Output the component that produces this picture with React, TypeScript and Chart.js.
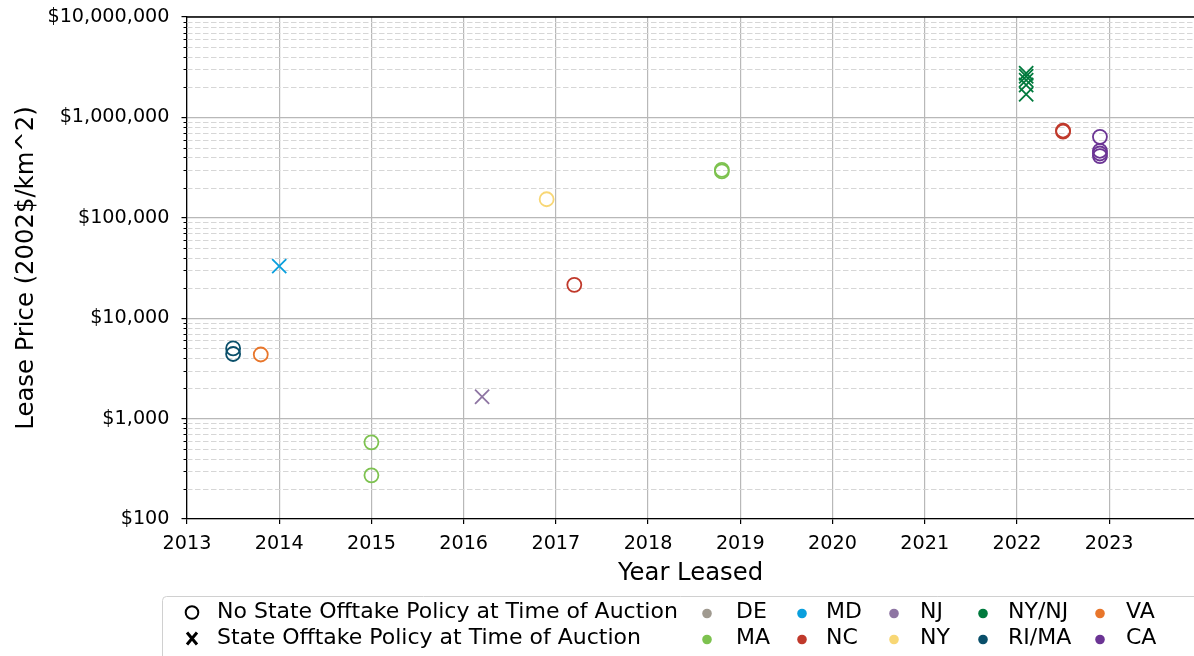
import React, { useEffect, useRef } from "react";
import { Chart, registerables } from "chart.js";

Chart.register(...registerables);

// ---------- data ----------
const yearTicks = [2013, 2014, 2015, 2016, 2017, 2018, 2019, 2020, 2021, 2022, 2023];
const priceTicks = [100, 1000, 10000, 100000, 1000000, 10000000];
const minorMultipliers = [2, 3, 4, 5, 6, 7, 8, 9];

const stateNames = ["DE", "MD", "NJ", "NY/NJ", "VA", "MA", "NC", "NY", "RI/MA", "CA"];
const stateColors = ["#a09a90", "#0a9fdd", "#8e75a3", "#007a3d", "#e8762b", "#7dc24f", "#c0392b", "#f8d775", "#0a4f6a", "#6b3494"];

const offtakeLabels = ["No State Offtake Policy at Time of Auction", "State Offtake Policy at Time of Auction"];

// No state offtake policy (circles)
const riMaYears = [2013.5, 2013.5];
const riMaPrices = [5000, 4400];
const vaYears = [2013.8];
const vaPrices = [4350];
const maYears = [2015.0, 2015.0, 2018.8, 2018.8];
const maPrices = [580, 272, 300000, 290000];
const nyYears = [2016.9];
const nyPrices = [153000];
const ncYears = [2017.2, 2022.5, 2022.5];
const ncPrices = [21500, 740000, 720000];
const caYears = [2022.9, 2022.9, 2022.9, 2022.9];
const caPrices = [640000, 465000, 437000, 412000];

// State offtake policy (crosses)
const mdYears = [2014.0];
const mdPrices = [33000];
const njYears = [2016.2];
const njPrices = [1650];
const nynjYears = [2022.1, 2022.1, 2022.1, 2022.1, 2022.1];
const nynjPrices = [2750000, 2570000, 2350000, 2100000, 1700000];

const X_MIN = 2013;
const X_MAX = 2023.92;

const colorOf = (s: string) => stateColors[stateNames.indexOf(s)];
const zip = (xs: number[], ys: number[]) => xs.map((x, i) => ({ x, y: ys[i] }));

const FONT = '"DejaVu Sans", sans-serif';

const minorGridPlugin = {
  id: "minorGrid",
  beforeDatasetsDraw(chart: any) {
    const { ctx, chartArea } = chart;
    const y = chart.scales.y;
    ctx.save();
    for (let d = 0; d < priceTicks.length - 1; d++) {
      for (const m of minorMultipliers) {
        const v = priceTicks[d] * m;
        const py = Math.round(y.getPixelForValue(v)) + 0.5;
        ctx.strokeStyle = "#d6d6d6";
        ctx.lineWidth = 1;
        ctx.setLineDash([5.5, 2.5]);
        ctx.beginPath();
        ctx.moveTo(chartArea.left, py);
        ctx.lineTo(chartArea.right, py);
        ctx.stroke();
        ctx.setLineDash([]);
        ctx.strokeStyle = "#000";
        ctx.beginPath();
        ctx.moveTo(chartArea.left - 3.5, py);
        ctx.lineTo(chartArea.left, py);
        ctx.stroke();
      }
    }
    ctx.restore();
  },
  afterDatasetsDraw(chart: any) {
    const { ctx, chartArea } = chart;
    ctx.save();
    ctx.strokeStyle = "#000";
    ctx.lineWidth = 1.3;
    ctx.beginPath();
    ctx.moveTo(chartArea.left, chartArea.top);
    ctx.lineTo(chartArea.right, chartArea.top);
    ctx.stroke();
    ctx.restore();
  },
};

const legendPlugin = {
  id: "customLegend",
  afterDraw(chart: any) {
    const ctx = chart.ctx;
    ctx.save();
    const bx = 162.5, by = 596.5, bw = 1060, bh = 80, r = 4;
    ctx.beginPath();
    ctx.moveTo(bx + r, by);
    ctx.lineTo(bx + bw - r, by);
    ctx.quadraticCurveTo(bx + bw, by, bx + bw, by + r);
    ctx.lineTo(bx + bw, by + bh);
    ctx.lineTo(bx, by + bh);
    ctx.lineTo(bx, by + r);
    ctx.quadraticCurveTo(bx, by, bx + r, by);
    ctx.closePath();
    ctx.fillStyle = "rgba(255,255,255,0.85)";
    ctx.fill();
    ctx.strokeStyle = "#d0d0d0";
    ctx.lineWidth = 1;
    ctx.stroke();

    const rows = [612.5, 638.5];
    ctx.font = `22px ${FONT}`;
    ctx.textBaseline = "middle";
    ctx.textAlign = "left";

    // marker-type entries
    ctx.strokeStyle = "#000";
    ctx.lineWidth = 2;
    ctx.beginPath();
    ctx.arc(192, rows[0], 6.3, 0, Math.PI * 2);
    ctx.stroke();
    ctx.lineWidth = 3;
    ctx.beginPath();
    ctx.moveTo(187, rows[1] - 6);
    ctx.lineTo(197, rows[1] + 6);
    ctx.moveTo(197, rows[1] - 6);
    ctx.lineTo(187, rows[1] + 6);
    ctx.stroke();
    ctx.fillStyle = "#000";
    ctx.fillText(offtakeLabels[0], 217, rows[0]);
    ctx.fillText(offtakeLabels[1], 217, rows[1]);

    // state entries
    const dotX = [707, 802, 894, 983, 1100];
    const textX = [736, 826, 920, 1008, 1126];
    stateNames.forEach((name, i) => {
      const col = i % 5;
      const row = Math.floor(i / 5);
      const cy = rows[row] + 1;
      ctx.fillStyle = stateColors[i];
      ctx.beginPath();
      ctx.arc(dotX[col], cy, 4.8, 0, Math.PI * 2);
      ctx.fill();
      ctx.fillStyle = "#000";
      ctx.fillText(name, textX[col], rows[row]);
    });
    ctx.restore();
  },
};

export default function App() {
  const ref = useRef<HTMLCanvasElement>(null);

  useEffect(() => {
    document.body.style.margin = "0";
    if (!ref.current) return;

    const circleSet = (label: string, xs: number[], ys: number[]) => ({
      label,
      data: zip(xs, ys),
      pointStyle: "circle",
      pointRadius: 7,
      pointBorderWidth: 1.8,
      borderColor: colorOf(label),
      pointBorderColor: colorOf(label),
      pointBackgroundColor: "rgba(0,0,0,0)",
      backgroundColor: "rgba(0,0,0,0)",
      showLine: false,
    });
    const crossSet = (label: string, xs: number[], ys: number[]) => ({
      label,
      data: zip(xs, ys),
      pointStyle: "crossRot",
      pointRadius: 10,
      pointBorderWidth: 1.8,
      borderColor: colorOf(label),
      pointBorderColor: colorOf(label),
      pointBackgroundColor: colorOf(label),
      backgroundColor: colorOf(label),
      showLine: false,
    });

    const chart = new Chart(ref.current, {
      type: "scatter",
      data: {
        datasets: [
          circleSet("RI/MA", riMaYears, riMaPrices),
          circleSet("VA", vaYears, vaPrices),
          crossSet("MD", mdYears, mdPrices),
          circleSet("MA", maYears, maPrices),
          crossSet("NJ", njYears, njPrices),
          circleSet("NY", nyYears, nyPrices),
          circleSet("NC", ncYears, ncPrices),
          crossSet("NY/NJ", nynjYears, nynjPrices),
          circleSet("CA", caYears, caPrices),
        ] as any,
      },
      options: {
        animation: false,
        responsive: true,
        maintainAspectRatio: false,
        font: { family: FONT },
        layout: { autoPadding: false, padding: { top: 17, left: 0, right: 0, bottom: 0 } },
        plugins: {
          legend: { display: false },
          tooltip: { enabled: false },
          title: { display: false },
        },
        scales: {
          x: {
            type: "linear",
            min: X_MIN,
            max: X_MAX,
            afterBuildTicks: (s: any) => {
              s.ticks = yearTicks.map((v) => ({ value: v }));
            },
            afterFit: (s: any) => {
              s.height = 137;
              s.paddingLeft = 0;
              s.paddingRight = 0;
            },
            ticks: {
              autoSkip: false,
              maxRotation: 0,
              padding: 8,
              color: "#000",
              font: { family: FONT, size: 19.2 },
              callback: (v: any) => String(v),
            },
            grid: {
              color: "#b8b8b8",
              lineWidth: 1.2,
              tickLength: 5,
              tickColor: "#000",
              tickWidth: 1.2,
            },
            border: { color: "#000", width: 1.3 },
            title: {
              display: true,
              text: "Year Leased",
              color: "#000",
              font: { family: FONT, size: 24.3 },
              padding: { top: 0, bottom: 67.6 },
            },
          },
          y: {
            type: "logarithmic",
            min: 100,
            max: 10000000,
            afterBuildTicks: (s: any) => {
              s.ticks = priceTicks.map((v) => ({ value: v }));
            },
            afterFit: (s: any) => {
              s.width = 187;
              s.paddingTop = 0;
              s.paddingBottom = 0;
            },
            ticks: {
              autoSkip: false,
              padding: 12,
              color: "#000",
              font: { family: FONT, size: 19.2 },
              callback: (v: any) => "$" + Number(v).toLocaleString("en-US"),
            },
            grid: {
              color: "#b8b8b8",
              lineWidth: 1.2,
              tickLength: 5.5,
              tickColor: "#000",
              tickWidth: 1.2,
            },
            border: { color: "#000", width: 1.3 },
            title: {
              display: true,
              text: "Lease Price (2002$/km^2)",
              color: "#000",
              font: { family: FONT, size: 24.3 },
              padding: { top: 11.6, bottom: 0 },
            },
          },
        },
      } as any,
      plugins: [minorGridPlugin, legendPlugin],
    });
    return () => chart.destroy();
  }, []);

  return (
    <div style={{ position: "absolute", left: 0, top: 0, width: 1194, height: 656 }}>
      <canvas ref={ref} />
    </div>
  );
}
